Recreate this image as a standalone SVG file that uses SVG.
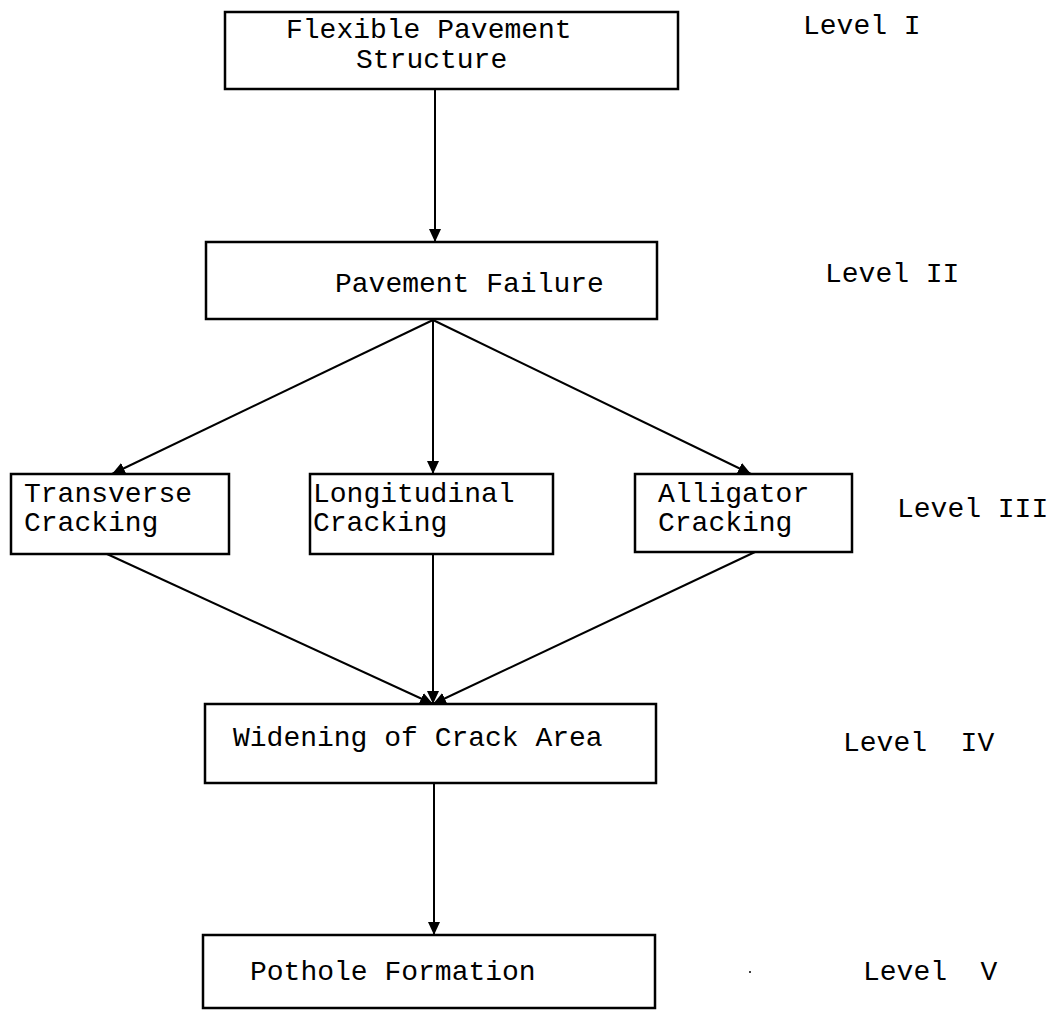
<svg xmlns="http://www.w3.org/2000/svg" width="1061" height="1011" viewBox="0 0 1061 1011">
<style>
.box{fill:#fff;stroke:#000;stroke-width:2.5}
.t{font-family:"Liberation Mono","Courier New",monospace;font-size:28px;fill:#000;white-space:pre}
.c{stroke:#000;stroke-width:2;fill:none}
</style>
<defs>
<marker id="ah" markerUnits="userSpaceOnUse" markerWidth="14" markerHeight="12" refX="13" refY="6" orient="auto">
<path d="M0,0 L13,6 L0,12 z" fill="#000"/>
</marker>
</defs>
<rect width="1061" height="1011" fill="#fff"/>
<g id="connectors">
<line class="c" x1="435" y1="89" x2="435" y2="242" marker-end="url(#ah)"/>
<line class="c" x1="433" y1="320" x2="112" y2="474" marker-end="url(#ah)"/>
<line class="c" x1="433" y1="320" x2="433" y2="474" marker-end="url(#ah)"/>
<line class="c" x1="433" y1="320" x2="751" y2="474" marker-end="url(#ah)"/>
<line class="c" x1="107" y1="554" x2="433" y2="704" marker-end="url(#ah)"/>
<line class="c" x1="433" y1="554" x2="433" y2="704" marker-end="url(#ah)"/>
<line class="c" x1="755" y1="552" x2="433" y2="704" marker-end="url(#ah)"/>
<line class="c" x1="434" y1="783" x2="434" y2="935" marker-end="url(#ah)"/>
</g>
<g id="n1">
<rect class="box" x="225" y="12" width="453" height="77"/>
<text class="t" x="286" y="38">Flexible Pavement</text>
<text class="t" x="356" y="68">Structure</text>
</g>
<g id="n2">
<rect class="box" x="206" y="242" width="451" height="77"/>
<text class="t" x="335" y="292">Pavement Failure</text>
</g>
<g id="n3">
<rect class="box" x="11" y="474" width="218" height="80"/>
<text class="t" x="24" y="502">Transverse</text>
<text class="t" x="24" y="531">Cracking</text>
</g>
<g id="n4">
<rect class="box" x="310" y="474" width="243" height="80"/>
<text class="t" x="313" y="502">Longitudinal</text>
<text class="t" x="313" y="531">Cracking</text>
</g>
<g id="n5">
<rect class="box" x="635" y="474" width="217" height="78"/>
<text class="t" x="658" y="502">Alligator</text>
<text class="t" x="658" y="531">Cracking</text>
</g>
<g id="n6">
<rect class="box" x="205" y="704" width="451" height="79"/>
<text class="t" x="233" y="746">Widening of Crack Area</text>
</g>
<g id="n7">
<rect class="box" x="203" y="935" width="452" height="73"/>
<text class="t" x="250" y="980">Pothole Formation</text>
</g>
<g id="levels">
<text class="t" x="803" y="34">Level I</text>
<text class="t" x="825" y="282">Level II</text>
<text class="t" x="897" y="517">Level III</text>
<text class="t" x="843" y="751">Level  IV</text>
<text class="t" x="863" y="980">Level  V</text>
</g>
<circle cx="750" cy="972" r="1" fill="#000"/>
</svg>
